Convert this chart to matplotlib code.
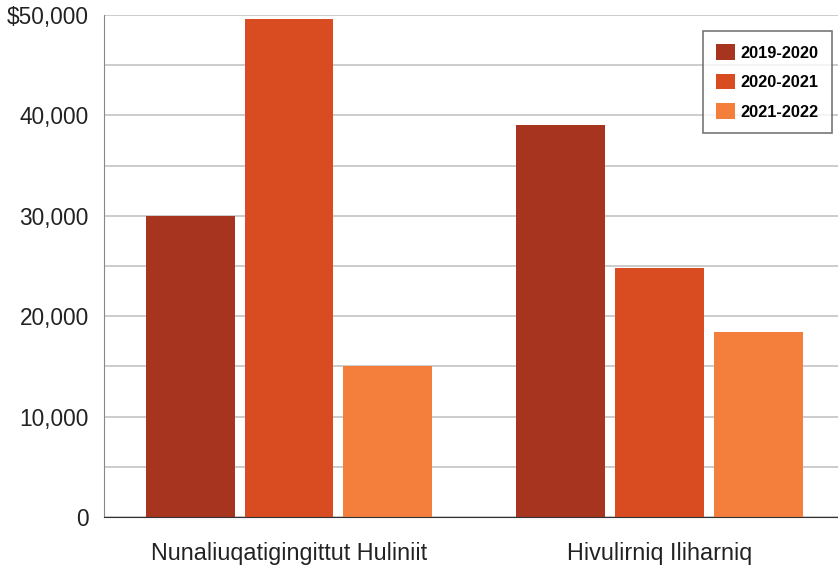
import numpy as np
import matplotlib.pyplot as plt
from matplotlib.ticker import FuncFormatter

plt.rcParams['font.family'] = ['Liberation Sans', 'DejaVu Sans']

categories = ["Nunaliuqatigingittut Huliniit", "Hivulirniq Iliharniq"]
years = ["2019-2020", "2020-2021", "2021-2022"]
values_2019 = [30000, 39000]
values_2020 = [49600, 24800]
values_2021 = [15000, 18400]
colors = ["#A6341E", "#D94B20", "#F47F3C"]

series = [values_2019, values_2020, values_2021]

fig = plt.figure(figsize=(8.38, 5.65), dpi=100)
ax = fig.add_axes([104/838, 48/565, 734/838, 502/565])

x = np.arange(len(categories))
step = 0.267
width = 0.24
for i, (vals, lab, col) in enumerate(zip(series, years, colors)):
    ax.bar(x + (i - 1)*step, vals, width, color=col, label=lab, zorder=3)

ax.set_xlim(-0.4993, 1.4818)
ax.set_ylim(0, 50000)
ax.set_yticks(np.arange(0, 50001, 5000))

def fmt(v, pos):
    v = int(round(v))
    if v % 10000 != 0:
        return ""
    if v == 0:
        return "0"
    s = f"{v:,}"
    return "$" + s if v == 50000 else s

ax.yaxis.set_major_formatter(FuncFormatter(fmt))
ax.set_xticks(x)
ax.set_xticklabels(categories)
ax.tick_params(axis='y', length=0, pad=11, labelsize=16.3, labelcolor='#222222')
ax.tick_params(axis='x', length=0, pad=18, labelsize=16.8, labelcolor='#222222')
ax.yaxis.grid(True, color='#c4c4c4', linewidth=1.2, zorder=0)

for s in ['top', 'right']:
    ax.spines[s].set_visible(False)
ax.spines['left'].set_color('#888888')
ax.spines['bottom'].set_color('#333333')
ax.spines['bottom'].set_zorder(4)

leg = ax.legend(loc='upper right', bbox_to_anchor=(0.9918, 0.968), borderaxespad=0,
                prop={'weight': 'bold', 'size': 11.8},
                frameon=True, fancybox=False, edgecolor='#555555', handlelength=1.15, handleheight=1.1,
                borderpad=0.8, labelspacing=0.8, handletextpad=0.35)
leg.get_frame().set_linewidth(1.2)

fig.savefig("out.png", dpi=100)
